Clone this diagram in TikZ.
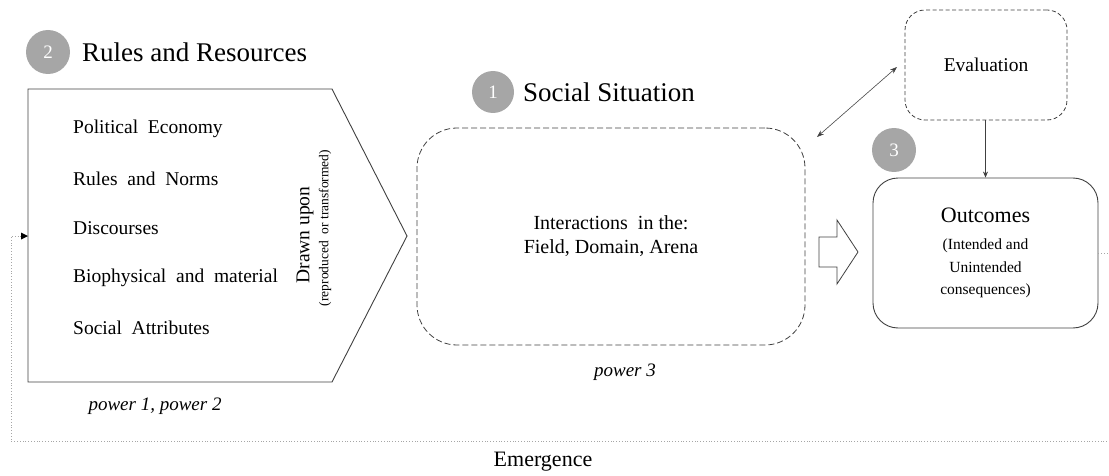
\documentclass[tikz,border=0pt]{standalone}
\usepackage{fontspec}
\setmainfont{Liberation Serif}
\usetikzlibrary{arrows.meta}
\definecolor{circgray}{HTML}{A6A6A6}
\definecolor{linegray}{HTML}{404040}
\tikzset{
  numcirc/.style={circle,fill=circgray,minimum size=44pt,inner sep=0pt,text=white,font=\fontsize{19}{19}\selectfont},
  heading/.style={anchor=west,inner sep=0pt,font=\fontsize{27}{27}\selectfont},
  item/.style={anchor=west,inner sep=0pt,font=\fontsize{19.5}{19.5}\selectfont},
  powerlbl/.style={inner sep=0pt,font=\fontsize{19}{19}\selectfont\itshape},
  dashbox/.style={draw=linegray,dash pattern=on 6pt off 3pt,line width=0.8pt},
  finedash/.style={draw=linegray,dash pattern=on 4pt off 2.5pt,line width=0.8pt},
  solidbox/.style={draw=linegray,line width=0.9pt},
  thinarrow/.style={draw=linegray,line width=0.6pt},
  loopline/.style={draw=gray!70,dotted,line width=0.8pt}
}
\begin{document}
\begin{tikzpicture}[x=1pt,y=-1pt]
\useasboundingbox (0,0) rectangle (1109,476);

% ---- 2 Rules and Resources
\node[numcirc] (c2) at (48,52) {2};
\node[heading] (h2) at (82,52) {Rules and Resources};
\draw[solidbox] (28,89) -- (332,89) -- (407,236) -- (332,382) -- (28,382) -- cycle;
\coordinate (pl) at (28,236);
\node[item] (i1) at (73,129) {Political\ \ Economy};
\node[item] (i2) at (73,179) {Rules\ \ and\ \ Norms};
\node[item] (i3) at (73,228) {Discourses};
\node[item] (i4) at (73,278) {Biophysical\ \ and\ \ material};
\node[item] (i5) at (73,328) {Social\ \ Attributes};
\node[rotate=90,inner sep=0pt,font=\fontsize{19.5}{19.5}\selectfont] (du) at (305,235) {Drawn upon};
\node[rotate=90,inner sep=0pt,font=\fontsize{13.5}{13.5}\selectfont] (rt) at (325,228) {(reproduced\ \ or transformed)};
\node[powerlbl] (p12) at (155,406) {power 1, power 2};

% ---- 1 Social Situation
\node[numcirc,minimum size=42pt] (c1) at (493,92) {1};
\node[heading] (h1) at (523,92) {Social Situation};
\node[dashbox,rounded corners=40pt,minimum width=388pt,minimum height=217pt,
      align=center,font=\fontsize{20}{24}\selectfont] (ss) at (611,236.5)
      {Interactions\ \ in the:\\Field, Domain, Arena};
\node[powerlbl] (p3) at (625,372) {power 3};

% ---- block arrow
\draw[solidbox,line width=0.8pt] (819,237) -- (837,237) -- (837,220) -- (858,252)
  -- (837,284) -- (837,267) -- (819,267) -- cycle;

% ---- Evaluation
\node[finedash,rounded corners=20pt,minimum width=162pt,minimum height=110pt,
      font=\fontsize{19.5}{19.5}\selectfont] (ev) at (986,65) {Evaluation};

% ---- 3 Outcomes
\node[numcirc] (c3) at (894,150) {3};
\node[solidbox,rounded corners=25pt,minimum width=225pt,minimum height=150pt,
      align=center,font=\fontsize{15.5}{22.5}\selectfont] (oc) at (985.5,253)
      {{\fontsize{22}{22}\selectfont Outcomes}\\[5pt]
       (Intended and\\Unintended\\consequences)};

% ---- connectors
\coordinate (da1) at (817,137);
\coordinate (da2) at (897,67);
\draw[thinarrow,{Stealth[length=7pt,width=5pt]}-{Stealth[length=7pt,width=5pt]}] (da1) -- (da2);
\draw[thinarrow,-{Stealth[length=6pt,width=5pt]}] (ev.south -| oc.north) -- (oc.north);

% ---- Emergence loop
\coordinate (lr) at (1109.5,253);
\coordinate (lbr) at (1109.5,441);
\coordinate (lbl) at (11,441);
\coordinate (ltl) at (11,236);
\draw[loopline] (oc.east) -- (lr) -- (lbr) -- (lbl) -- (ltl) -- ([xshift=-6pt]pl);
\fill[black] (pl) -- ++(-7,-3.5) -- ++(0,7) -- cycle;
\node[inner sep=0pt,font=\fontsize{22}{22}\selectfont] (em) at (543,462) {Emergence};
\end{tikzpicture}
\end{document}
